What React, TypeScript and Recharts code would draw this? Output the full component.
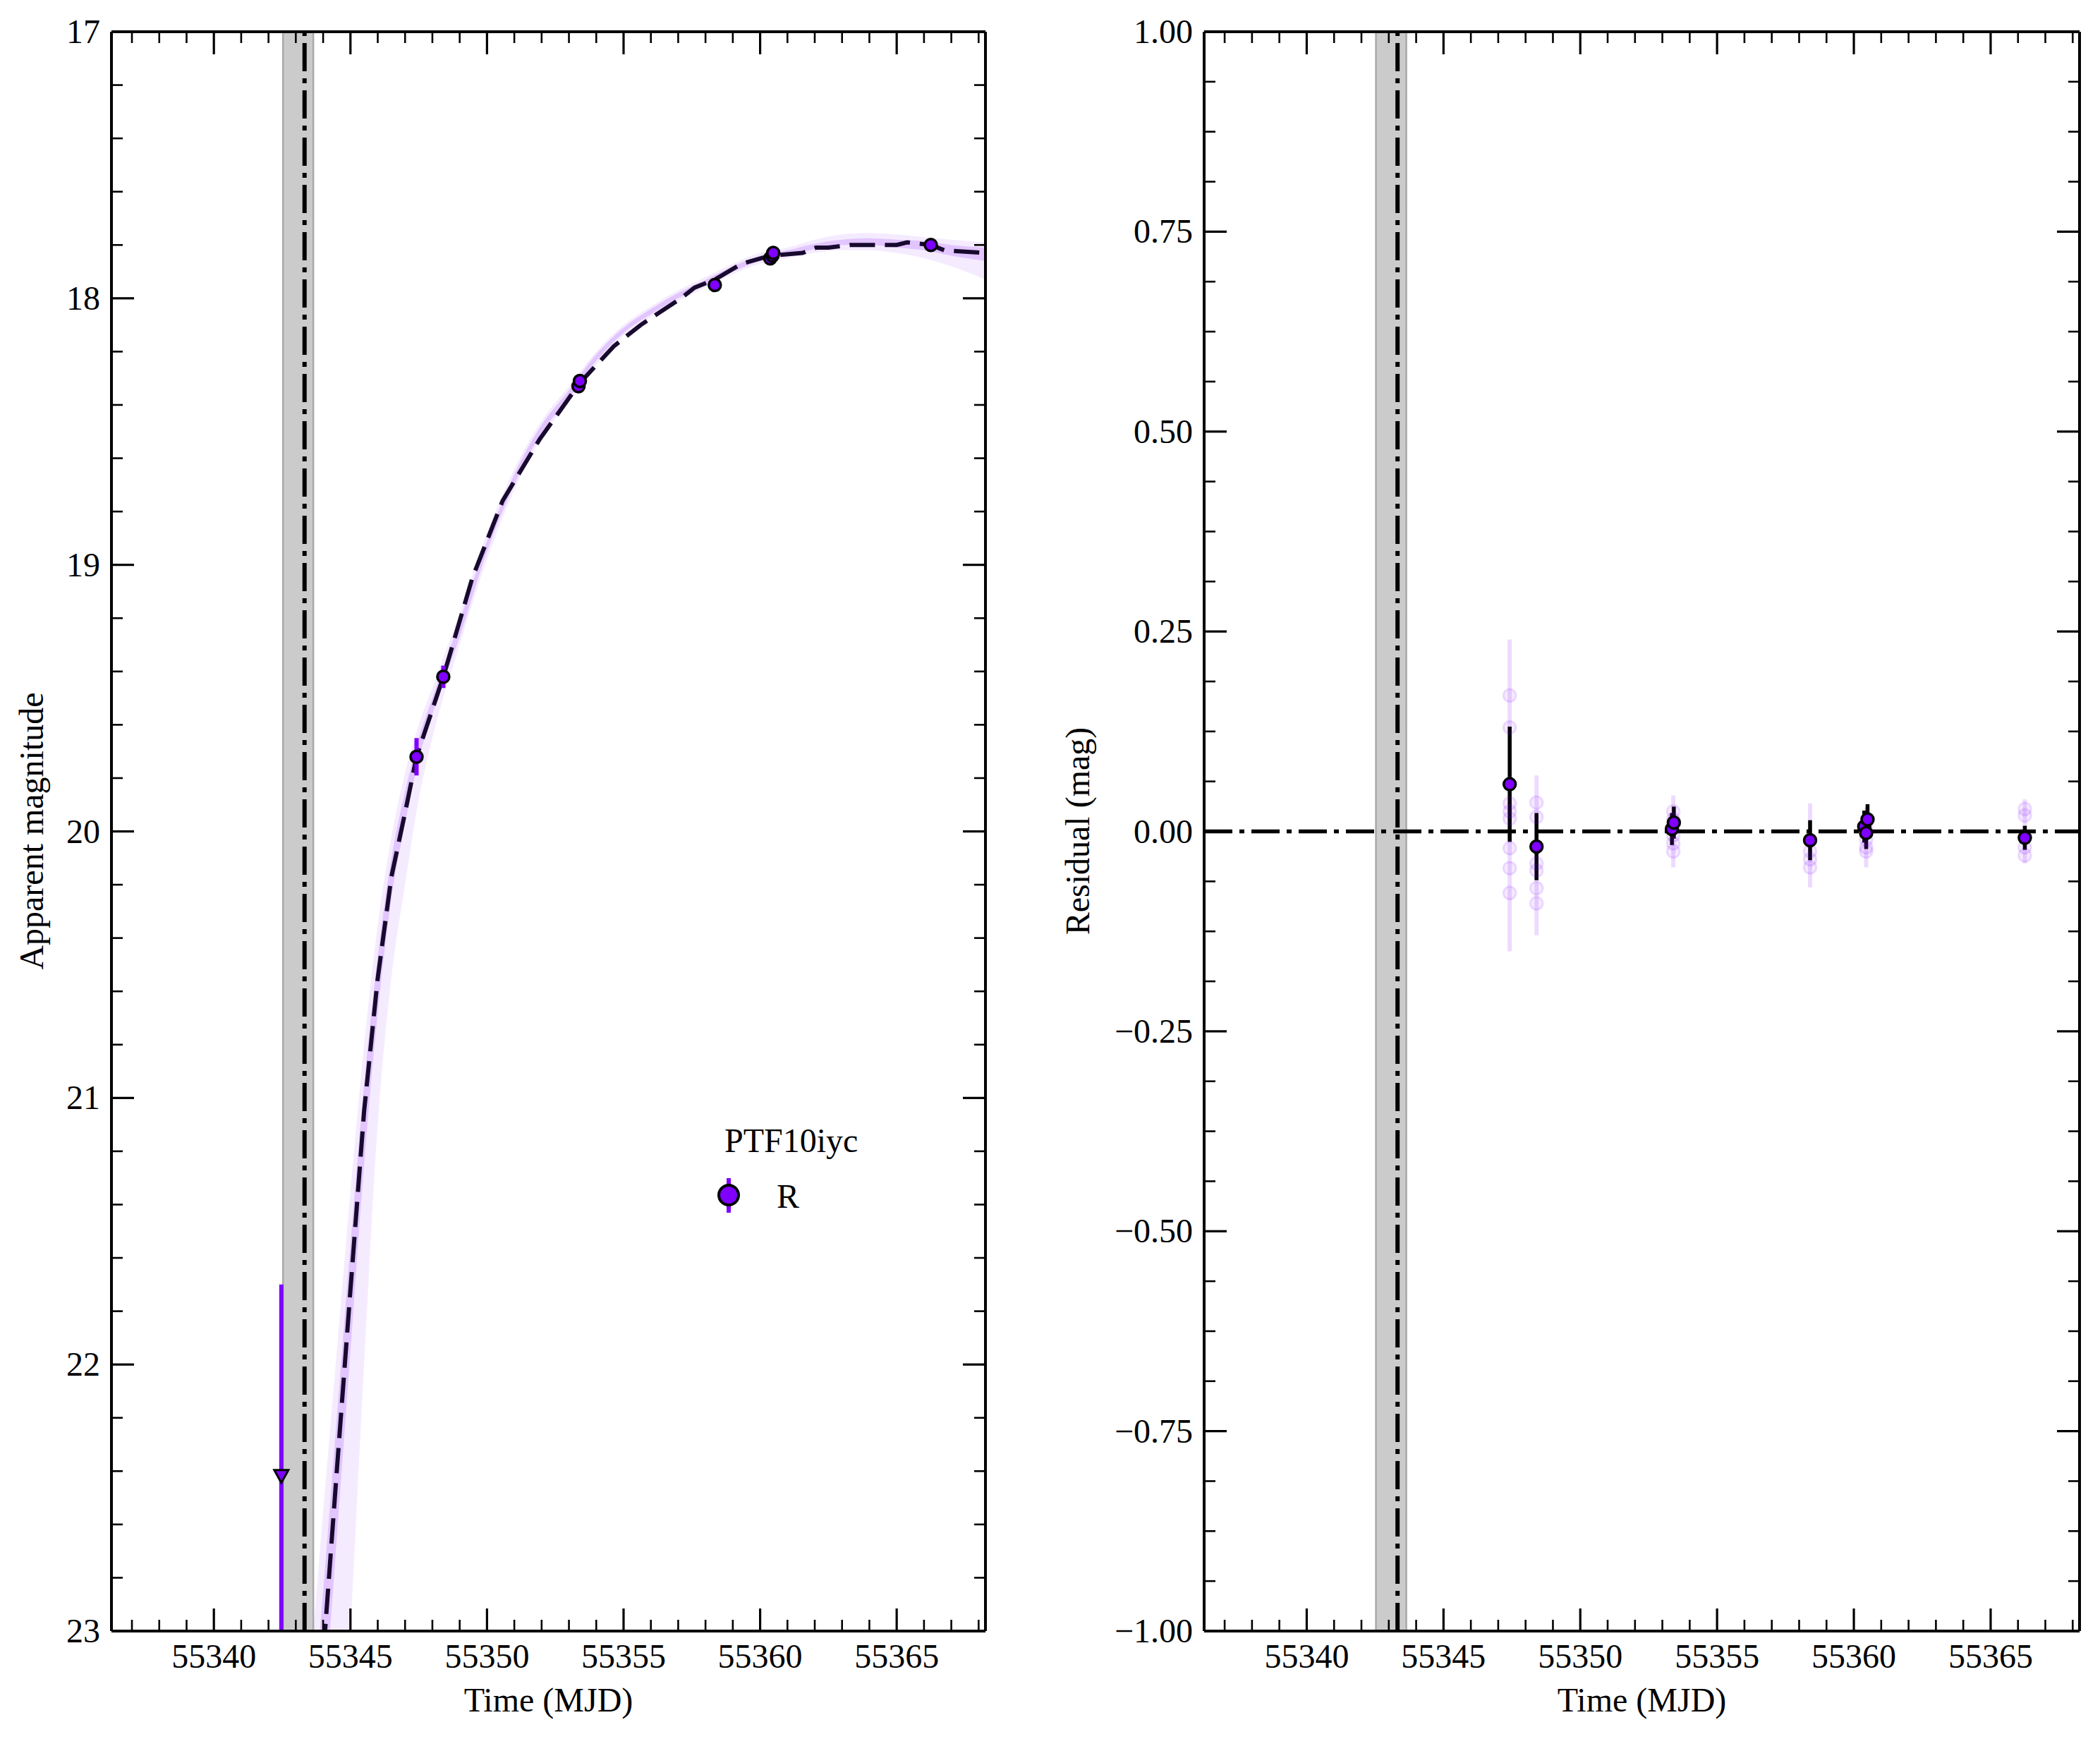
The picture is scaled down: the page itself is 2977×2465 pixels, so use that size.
import React from 'react';
import {
  ComposedChart,
  XAxis,
  YAxis,
  Line,
  Area,
  Scatter,
  ErrorBar,
  ReferenceLine,
  ReferenceArea,
  Label,
} from 'recharts';

const FONT = '"Liberation Serif", "Times New Roman", Times, serif';
const FS = 48;
const PURPLE = '#8000ff';

// ---------- axes ----------
const X_DOMAIN: [number, number] = [55336.25, 55368.25];
const X_MAJOR = [55340, 55345, 55350, 55355, 55360, 55365];
const MAG_DOMAIN: [number, number] = [17, 23];
const MAG_MAJOR = [17, 18, 19, 20, 21, 22, 23];
const RES_DOMAIN: [number, number] = [-1, 1];
const RES_MAJOR = [-1, -0.75, -0.5, -0.25, 0, 0.25, 0.5, 0.75, 1];

const stepTicks = (lo: number, hi: number, step: number) => {
  const out: number[] = [];
  for (let i = 0; lo + i * step <= hi + 1e-9; i++) out.push(+(lo + i * step).toFixed(6));
  return out;
};
const X_TICKS = stepTicks(55337, 55368, 1);
const MAG_TICKS = stepTicks(17, 23, 0.2);
const RES_TICKS = stepTicks(-1, 1, 0.0625);

// ---------- explosion epoch ----------
const T0_BAND: [number, number] = [55342.53, 55343.64];
const T0 = 55343.32;

// ---------- observed photometry (R band) ----------
const obsT = [55347.42, 55348.40, 55353.35, 55353.40, 55358.34, 55360.37, 55360.45, 55360.48, 55366.25];
const obsMag = [19.72, 19.42, 18.33, 18.31, 17.95, 17.85, 17.84, 17.83, 17.80];
const obsErr = [0.07, 0.042, 0.02, 0.02, 0.025, 0.02, 0.02, 0.019, 0.015];

// upper limit
const limT = [55342.47];
const limMag = [22.42];
const limErrUp = [0.72];
const limErrDown = [0.58];

// ---------- model (median, dashed) ----------
const modelT = [55343.95, 55344.07, 55344.5, 55345.0, 55345.5, 55346.0, 55346.5, 55347.0, 55347.42, 55348.4,
  55349.46, 55350.57, 55351.92, 55353.38, 55354.64, 55355.63, 55357.1, 55357.6, 55358.34, 55359.33,
  55360.37, 55361.55, 55362.05, 55362.5, 55363.28, 55365.0, 55365.38, 55366.25, 55366.75, 55368.25];
const modelMag = [23.2, 23.0, 22.4, 21.72, 21.05, 20.55, 20.17, 19.93, 19.72, 19.42,
  19.05, 18.76, 18.53, 18.32, 18.18, 18.1, 18.0, 17.96, 17.93, 17.87,
  17.84, 17.83, 17.81, 17.81, 17.8, 17.8, 17.79, 17.8, 17.82, 17.83];

// ---------- model samples envelope ----------
const bandT = [55343.6, 55344.0, 55344.5, 55345.0, 55345.5, 55346.0, 55346.5, 55347.0, 55347.5, 55348.0,
  55349.0, 55350.0, 55351.0, 55352.0, 55353.0, 55354.0, 55355.0, 55356.0, 55357.0, 55358.0,
  55359.0, 55360.0, 55361.0, 55362.0, 55363.0, 55364.0, 55365.0, 55366.0, 55367.0, 55368.25];
const outerLo = [23.05, 22.55, 21.95, 21.35, 20.8, 20.35, 20.02, 19.78, 19.6, 19.46,
  19.18, 18.88, 18.64, 18.46, 18.33, 18.2, 18.1, 18.03, 17.97, 17.92,
  17.87, 17.83, 17.81, 17.78, 17.76, 17.755, 17.76, 17.77, 17.78, 17.79];
const outerHi = [25.2, 24.6, 23.9, 23.0, 22.0, 21.1, 20.55, 20.2, 19.88, 19.65,
  19.3, 18.98, 18.72, 18.52, 18.39, 18.25, 18.14, 18.07, 18.01, 17.96,
  17.91, 17.87, 17.85, 17.83, 17.82, 17.82, 17.83, 17.85, 17.88, 17.93];
const innerLo = [23.35, 22.85, 22.2, 21.55, 20.95, 20.47, 20.1, 19.85, 19.65, 19.5,
  19.21, 18.91, 18.66, 18.475, 18.345, 18.21, 18.11, 18.04, 17.98, 17.93,
  17.88, 17.84, 17.82, 17.795, 17.78, 17.775, 17.78, 17.785, 17.8, 17.81];
const innerHi = [23.9, 23.35, 22.65, 21.95, 21.25, 20.68, 20.25, 19.97, 19.73, 19.56,
  19.27, 18.95, 18.7, 18.505, 18.375, 18.235, 18.13, 18.06, 18.0, 17.95,
  17.9, 17.86, 17.84, 17.815, 17.8, 17.8, 17.81, 17.82, 17.84, 17.86];

// ---------- residuals ----------
const resT = [55347.42, 55348.40, 55353.35, 55353.42, 55358.40, 55360.38, 55360.45, 55360.50, 55366.25];
const resVal = [0.059, -0.019, 0.003, 0.011, -0.011, 0.006, -0.002, 0.015, -0.008];
const resErr = [0.072, 0.042, 0.02, 0.02, 0.025, 0.02, 0.02, 0.019, 0.015];

const sampT = [55347.42, 55347.42, 55347.42, 55347.42, 55347.42, 55347.42, 55347.42, 55347.42,
  55348.4, 55348.4, 55348.4, 55348.4, 55348.4, 55348.4,
  55353.4, 55353.4, 55353.4, 55353.4, 55353.4,
  55358.4, 55358.4, 55358.4,
  55360.45, 55360.45, 55360.45, 55360.45,
  55366.25, 55366.25, 55366.25, 55366.25];
const sampVal = [0.17, 0.13, 0.035, 0.025, 0.016, -0.021, -0.046, -0.077,
  0.036, 0.018, -0.04, -0.049, -0.071, -0.09,
  0.025, 0.015, -0.005, -0.015, -0.025,
  -0.025, -0.035, -0.045,
  -0.01, -0.02, -0.025, 0.005,
  0.028, 0.02, -0.02, -0.03];

const trailT = [55347.42, 55348.4, 55353.4, 55358.4, 55360.45, 55366.25];
const trailLo = [-0.15, -0.13, -0.045, -0.07, -0.045, -0.04];
const trailHi = [0.24, 0.07, 0.045, 0.035, 0.03, 0.04];

// ---------- derived tables ----------
const obsData = obsT.map((t, i) => ({ t, m: obsMag[i], e: obsErr[i] }));
const limData = limT.map((t, i) => ({ t, m: limMag[i], e: [limErrUp[i], limErrDown[i]] }));
const modelData = modelT.map((t, i) => ({ t, mm: modelMag[i] }));
const outerData = bandT.map((t, i) => ({ t, band: [outerLo[i], outerHi[i]] }));
const innerData = bandT.map((t, i) => ({ t, band: [innerLo[i], innerHi[i]] }));
const resData = resT.map((t, i) => ({ t, r: resVal[i], e: resErr[i] }));
const sampData = sampT.map((t, i) => ({ t, r: sampVal[i] }));
const trailData = trailT.map((t, i) => ({ t, r: trailLo[i], e: [0, trailHi[i] - trailLo[i]] }));

const fmtInt = (v: number) => String(Math.round(v));
const fmtRes = (v: number) => {
  const s = Math.abs(v).toFixed(2);
  return v < -1e-9 ? '\u2212' + s : s;
};

type Side = 'left' | 'right' | 'top' | 'bottom';
const makeTick = (side: Side, majors: number[], fmt?: (v: number) => string) => (props: any) => {
  const { x, y, payload } = props;
  const v = Number(payload.value);
  const major = majors.some((m) => Math.abs(m - v) < 1e-6);
  const len = major ? 32 : 16;
  const sw = major ? 3.2 : 2.6;
  let x2 = x;
  let y2 = y;
  if (side === 'left') x2 = x + len;
  else if (side === 'right') x2 = x - len;
  else if (side === 'bottom') y2 = y - len;
  else y2 = y + len;
  return (
    <g>
      <line x1={x} y1={y} x2={x2} y2={y2} stroke="#000" strokeWidth={sw} />
      {major && fmt && side === 'left' ? (
        <text x={x - 16} y={y + 16} textAnchor="end" fontFamily={FONT} fontSize={FS} fill="#000">
          {fmt(v)}
        </text>
      ) : null}
      {major && fmt && side === 'bottom' ? (
        <text x={x} y={y + 52} textAnchor="middle" fontFamily={FONT} fontSize={FS} fill="#000">
          {fmt(v)}
        </text>
      ) : null}
    </g>
  );
};

const AXIS_LINE = { stroke: '#000', strokeWidth: 4 };

const dataCircle = (p: any) =>
  p.cx == null ? <g /> : <circle cx={p.cx} cy={p.cy} r={8.5} fill={PURPLE} stroke="#000" strokeWidth={3.5} />;
const limTriangle = (p: any) =>
  p.cx == null ? <g /> : (
    <path
      d={`M${p.cx - 10},${p.cy - 9} L${p.cx + 10},${p.cy - 9} L${p.cx},${p.cy + 9} Z`}
      fill={PURPLE}
      stroke="#000"
      strokeWidth={3}
    />
  );
const faintCircle = (p: any) =>
  p.cx == null ? <g /> : (
    <circle cx={p.cx} cy={p.cy} r={9} fill="rgba(128,0,255,0.08)" stroke="rgba(128,0,255,0.12)" strokeWidth={3} />
  );
const noShape = () => <g />;

const xAxes = (label: string) => [
  <XAxis
    key="xb"
    xAxisId="b"
    type="number"
    dataKey="t"
    orientation="bottom"
    domain={X_DOMAIN}
    allowDataOverflow
    ticks={X_TICKS}
    interval={0}
    tickSize={0}
    tickMargin={0}
    tickLine={false}
    axisLine={AXIS_LINE}
    tick={makeTick('bottom', X_MAJOR, fmtInt)}
    height={153}
  >
    <Label value={label} position="insideBottom" offset={39} fontFamily={FONT} fontSize={FS} fill="#000" />
  </XAxis>,
  <XAxis
    key="xt"
    xAxisId="t"
    type="number"
    dataKey="t"
    orientation="top"
    domain={X_DOMAIN}
    allowDataOverflow
    ticks={X_TICKS}
    interval={0}
    tickSize={0}
    tickMargin={0}
    tickLine={false}
    axisLine={AXIS_LINE}
    tick={makeTick('top', X_MAJOR)}
    height={1}
  />,
];

const LeftPanel = () => (
  <ComposedChart width={1500} height={2465} margin={{ top: 44, right: 102, bottom: 0, left: 0 }}>
    {xAxes('Time (MJD)')}
    <YAxis
      yAxisId="l"
      type="number"
      dataKey="m"
      orientation="left"
      reversed
      domain={MAG_DOMAIN}
      allowDataOverflow
      ticks={MAG_TICKS}
      interval={0}
      tickSize={0}
      tickMargin={0}
      tickLine={false}
      axisLine={AXIS_LINE}
      tick={makeTick('left', MAG_MAJOR, fmtInt)}
      width={158}
    >
      <Label
        content={() => (
          <text x={61} y={1178} transform="rotate(-90 61 1178)" textAnchor="middle" fontFamily={FONT} fontSize={FS} fill="#000">
            Apparent magnitude
          </text>
        )}
      />
    </YAxis>
    <YAxis
      yAxisId="r"
      type="number"
      dataKey="m"
      orientation="right"
      reversed
      domain={MAG_DOMAIN}
      allowDataOverflow
      ticks={MAG_TICKS}
      interval={0}
      tickSize={0}
      tickMargin={0}
      tickLine={false}
      axisLine={AXIS_LINE}
      tick={makeTick('right', MAG_MAJOR)}
      width={1}
    />
    {/* invisible series binding the mirrored (top/right) axes */}
    <Scatter xAxisId="t" yAxisId="r" data={obsData} dataKey="m" shape={noShape} isAnimationActive={false} />
    <ReferenceArea xAxisId="b" yAxisId="l" x1={T0_BAND[0]} x2={T0_BAND[1]} fill="#cbcbcb" fillOpacity={1} stroke="none" ifOverflow="hidden" />
    <ReferenceLine xAxisId="b" yAxisId="l" x={T0_BAND[0]} stroke="#a9a9a9" strokeWidth={2.5} />
    <ReferenceLine xAxisId="b" yAxisId="l" x={T0_BAND[1]} stroke="#a9a9a9" strokeWidth={2.5} />
    <Area xAxisId="b" yAxisId="l" data={outerData} dataKey="band" type="monotone" fill={PURPLE} fillOpacity={0.08} stroke="none" isAnimationActive={false} />
    <Area xAxisId="b" yAxisId="l" data={innerData} dataKey="band" type="monotone" fill={PURPLE} fillOpacity={0.16} stroke="none" isAnimationActive={false} />
    <Line xAxisId="b" yAxisId="l" data={modelData} dataKey="mm" type="linear" stroke="#180a2e" strokeWidth={6} strokeDasharray="36 14" dot={false} activeDot={false} isAnimationActive={false} />
    <Scatter xAxisId="b" yAxisId="l" data={limData} dataKey="m" shape={limTriangle} isAnimationActive={false}>
      <ErrorBar dataKey="e" direction="y" width={0} stroke={PURPLE} strokeWidth={6} />
    </Scatter>
    <Scatter xAxisId="b" yAxisId="l" data={obsData} dataKey="m" shape={dataCircle} isAnimationActive={false}>
      <ErrorBar dataKey="e" direction="y" width={0} stroke={PURPLE} strokeWidth={6} />
    </Scatter>
    <ReferenceLine xAxisId="b" yAxisId="l" x={T0} stroke="#000" strokeWidth={6} strokeDasharray="40 10 7 10" />
  </ComposedChart>
);

const RightPanel = () => (
  <ComposedChart width={1477} height={2465} margin={{ top: 44, right: 28, bottom: 0, left: 0 }}>
    {xAxes('Time (MJD)')}
    <YAxis
      yAxisId="l"
      type="number"
      dataKey="r"
      orientation="left"
      domain={RES_DOMAIN}
      allowDataOverflow
      ticks={RES_TICKS}
      interval={0}
      tickSize={0}
      tickMargin={0}
      tickLine={false}
      axisLine={AXIS_LINE}
      tick={makeTick('left', RES_MAJOR, fmtRes)}
      width={207}
    >
      <Label
        content={() => (
          <text x={44} y={1178} transform="rotate(-90 44 1178)" textAnchor="middle" fontFamily={FONT} fontSize={FS} fill="#000">
            Residual (mag)
          </text>
        )}
      />
    </YAxis>
    <YAxis
      yAxisId="r"
      type="number"
      dataKey="r"
      orientation="right"
      domain={RES_DOMAIN}
      allowDataOverflow
      ticks={RES_TICKS}
      interval={0}
      tickSize={0}
      tickMargin={0}
      tickLine={false}
      axisLine={AXIS_LINE}
      tick={makeTick('right', RES_MAJOR)}
      width={1}
    />
    <Scatter xAxisId="t" yAxisId="r" data={resData} dataKey="r" shape={noShape} isAnimationActive={false} />
    <ReferenceArea xAxisId="b" yAxisId="l" x1={T0_BAND[0]} x2={T0_BAND[1]} fill="#cbcbcb" fillOpacity={1} stroke="none" ifOverflow="hidden" />
    <ReferenceLine xAxisId="b" yAxisId="l" x={T0_BAND[0]} stroke="#a9a9a9" strokeWidth={2.5} />
    <ReferenceLine xAxisId="b" yAxisId="l" x={T0_BAND[1]} stroke="#a9a9a9" strokeWidth={2.5} />
    <Scatter xAxisId="b" yAxisId="l" data={trailData} dataKey="r" shape={noShape} isAnimationActive={false}>
      <ErrorBar dataKey="e" direction="y" width={0} stroke="rgba(128,0,255,0.14)" strokeWidth={6} />
    </Scatter>
    <Scatter xAxisId="b" yAxisId="l" data={sampData} dataKey="r" shape={faintCircle} isAnimationActive={false} />
    <ReferenceLine xAxisId="b" yAxisId="l" y={0} stroke="#000" strokeWidth={5.5} strokeDasharray="40 10 7 10" />
    <Scatter xAxisId="b" yAxisId="l" data={resData} dataKey="r" shape={dataCircle} isAnimationActive={false}>
      <ErrorBar dataKey="e" direction="y" width={0} stroke="#000" strokeWidth={5.5} />
    </Scatter>
    <ReferenceLine xAxisId="b" yAxisId="l" x={T0} stroke="#000" strokeWidth={6} strokeDasharray="40 10 7 10" />
  </ComposedChart>
);

const LegendOverlay = () => (
  <svg width={1500} height={2465} style={{ position: 'absolute', left: 0, top: 0, pointerEvents: 'none' }}>
    <text x={1027} y={1633} fontFamily={FONT} fontSize={FS} fill="#000">
      PTF10iyc
    </text>
    <line x1={1033} y1={1670} x2={1033} y2={1719} stroke={PURPLE} strokeWidth={6} />
    <circle cx={1033} cy={1694} r={14} fill={PURPLE} stroke="#000" strokeWidth={4} />
    <text x={1101} y={1712} fontFamily={FONT} fontSize={FS} fill="#000">
      R
    </text>
  </svg>
);

export default function App() {
  return (
    <div style={{ position: 'absolute', left: 0, top: 0, width: 2977, height: 2465, background: '#fff', overflow: 'hidden' }}>
      <div style={{ position: 'absolute', left: 0, top: 0 }}>
        <LeftPanel />
      </div>
      <LegendOverlay />
      <div style={{ position: 'absolute', left: 1500, top: 0 }}>
        <RightPanel />
      </div>
    </div>
  );
}
